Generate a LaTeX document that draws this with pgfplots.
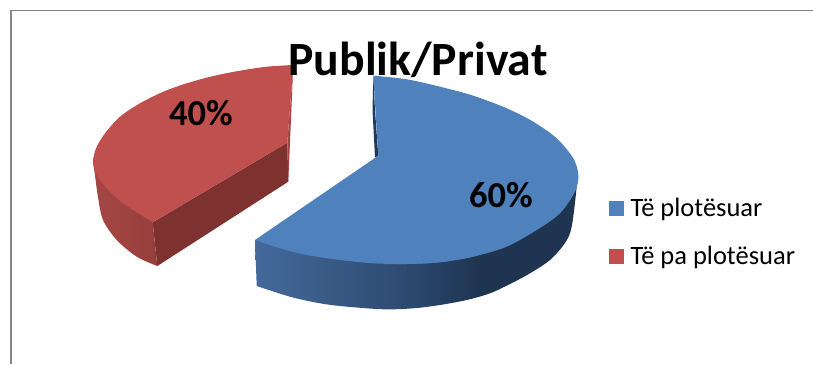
\documentclass[border=0pt]{standalone}
\usepackage{pgfplots}
\pgfplotsset{compat=1.18}
\usepackage{fontspec}
\setmainfont{Carlito}
\definecolor{pblue}{HTML}{4F81BD}
\definecolor{pred}{HTML}{C0504D}
\definecolor{dred}{HTML}{7E3230}
\definecolor{dblue}{HTML}{1F3A5A}
\definecolor{bsa}{HTML}{44699A}
\definecolor{bsb}{HTML}{2E4C73}
\definecolor{bsc}{HTML}{1E3450}
\definecolor{rsa}{HTML}{A54744}
\definecolor{rsb}{HTML}{963F3D}
\definecolor{sliver}{HTML}{A84543}
\definecolor{frame}{HTML}{868686}
\pgfdeclarehorizontalshading{blueside}{100bp}{color(0bp)=(bsa);color(25bp)=(bsa);color(47bp)=(bsb);color(60bp)=(bsc);color(100bp)=(bsc)}
\pgfdeclarehorizontalshading{redside}{100bp}{color(0bp)=(rsa);color(25bp)=(rsa);color(75bp)=(rsb);color(100bp)=(rsb)}
\begin{document}
\begin{tikzpicture}
\begin{axis}[
  scale only axis, width=813pt, height=364pt,
  xmin=0, xmax=813, ymin=0, ymax=364, y dir=reverse,
  hide axis, clip=true,
  legend cell align=left,
  legend style={at={(axis cs:609,196)}, anchor=north west, draw=none, fill=none,
    font=\fontsize{26.5}{26.5}\selectfont, row sep=24pt, inner sep=0pt,
    /tikz/every odd column/.append style={column sep=4.5pt}},
  legend image code/.code={\fill[#1] (0pt,-7.5pt) rectangle (15pt,7.5pt);},
]
% background and frame
\addplot[draw=none, fill=white, forget plot] coordinates {(0,0) (813,0) (813,364) (0,364)};
\addplot[frame, line width=2pt, forget plot] coordinates {(11,364) (11,10.5)};
\addplot[frame, line width=1.5pt, forget plot] coordinates {(10,10.5) (813,10.5)};
% red slice: outer wall, cut wall, sliver
\addplot[draw=none, shade, shading=redside, smooth, forget plot] coordinates {
 (157.3,266) (136.7,256.7) (116.7,240) (103,220) (98,197) (95,175) (93.5,158) (105,150) (140,190) (152.7,222.3)};
\addplot[draw=none, fill=dred, forget plot] coordinates {
 (152.7,222.3) (157.3,266) (288.3,181.7) (287.3,142.7)};
\addplot[draw=none, fill=sliver, forget plot] coordinates {
 (293.3,65) (287.3,142.7) (288.3,181.7) (290.5,130)};
% blue slice: outer wall and sliver
\addplot[draw=none, shade, shading=blueside, smooth, forget plot] coordinates {
 (256.7,286) (290,296.7) (316.7,302.7) (340,306) (383.3,309.3) (413.3,308.3) (440,305) (466.7,300) (490,293.3)
 (510,284) (530,273.3) (550,260) (565,243) (571.7,226.7) (576.7,186.7) (577,175) (560,165) (450,200) (320,235) (255,240)};
\addplot[draw=none, fill=dblue, forget plot] coordinates {
 (373.3,75.7) (372.5,110) (375,157.5) (378.3,155.7) (375,110)};
% top faces (legend order: blue, red)
\addplot[draw=none, fill=pblue, smooth] coordinates {
 (373.3,75.7) (406.7,79.3) (440,86.7) (473.3,95.7) (506.7,108.3) (533.3,121.7) (556.7,138.3) (573.3,158.3) (578.3,175)
 (575,191.7) (560,213.3) (536.7,230) (506.7,246.7) (473.3,256.7) (440,262.3) (406.7,264) (385,264)};
\addlegendentry{Të plotësuar}
\addplot[draw=none, fill=pblue, smooth, forget plot] coordinates {
 (473.3,256.7) (440,262.3) (406.7,264) (373.3,263.3) (340,260) (306.7,255) (280,248.3) (255,240)};
\addplot[draw=none, fill=pblue, forget plot] coordinates {
 (255,240) (378.3,155.7) (440,200) (440,262)};
\addplot[draw=none, fill=pred, smooth] coordinates {
 (293.3,65) (266.7,66.7) (240,70.7) (213.3,76) (186.7,83.3) (163.3,91.7) (140,103.3) (120,116.7) (105,133.3) (96,148.3)
 (93.3,161.7) (96.7,175) (106.7,188.3) (123.3,203.3) (152.7,222.3)};
\addlegendentry{Të pa plotësuar}
\addplot[draw=none, fill=pred, forget plot] coordinates {
 (293.3,65) (200,120) (152.7,222.3) (287.3,142.7)};
\node[anchor=center, font=\fontsize{47.7}{47.7}\selectfont\bfseries] at (axis cs:418,60) {Publik/Privat};
\node[anchor=center, font=\fontsize{36.5}{36.5}\selectfont\bfseries] at (axis cs:201,113) {40\%};
\node[anchor=center, font=\fontsize{36.5}{36.5}\selectfont\bfseries] at (axis cs:501,195) {60\%};
\end{axis}
\end{tikzpicture}
\end{document}
